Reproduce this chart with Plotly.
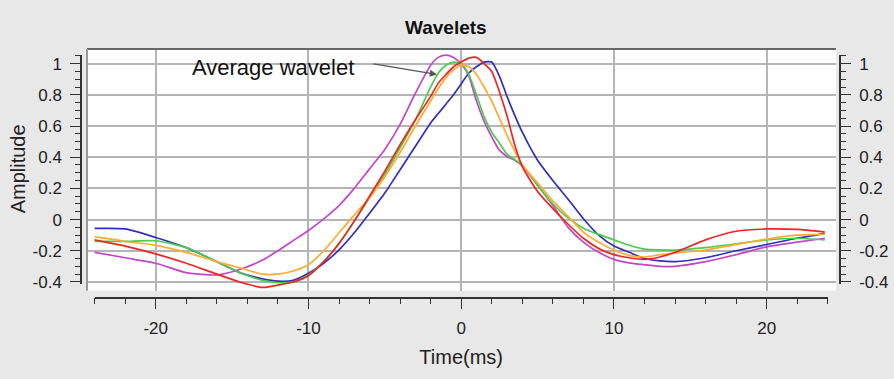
import plotly.graph_objects as go

W, H = 894, 379

t = [-24, -22, -20, -18, -16, -14.5, -13, -12, -11, -10, -9, -8, -7, -6, -5, -4, -3, -2,
     -1.5, -1, -0.5, 0, 0.5, 1, 1.5, 2, 2.5, 3, 3.5, 4, 5, 6, 7, 8, 9, 10, 11, 12, 13, 14,
     16, 18, 20, 22, 23.8]

blue = [-0.057, -0.06, -0.115, -0.18, -0.27, -0.34, -0.38, -0.395, -0.39, -0.345, -0.28,
        -0.195, -0.085, 0.04, 0.17, 0.32, 0.47, 0.62, 0.68, 0.74, 0.80, 0.87, 0.94, 0.98,
        1.01, 1.01, 0.92, 0.79, 0.67, 0.56, 0.38, 0.25, 0.13, 0.005, -0.10, -0.17, -0.21,
        -0.25, -0.265, -0.27, -0.245, -0.20, -0.16, -0.12, -0.09]

red = [-0.13, -0.17, -0.22, -0.28, -0.35, -0.40, -0.435, -0.42, -0.40, -0.36, -0.27,
       -0.155, -0.01, 0.15, 0.31, 0.48, 0.64, 0.79, 0.875, 0.93, 0.98, 1.01, 1.035, 1.04,
       1.0, 0.95, 0.82, 0.665, 0.48, 0.34, 0.18, 0.07, -0.03, -0.12, -0.185, -0.225, -0.245,
       -0.255, -0.24, -0.21, -0.13, -0.075, -0.06, -0.063, -0.08]

green = [-0.14, -0.14, -0.136, -0.18, -0.27, -0.34, -0.39, -0.405, -0.40, -0.355, -0.27,
         -0.15, -0.01, 0.14, 0.29, 0.46, 0.64, 0.85, 0.94, 0.99, 1.01, 1.0, 0.93, 0.80,
         0.66, 0.56, 0.49, 0.42, 0.385, 0.35, 0.22, 0.10, 0.01, -0.055, -0.095, -0.13,
         -0.165, -0.19, -0.195, -0.195, -0.18, -0.155, -0.13, -0.12, -0.13]

orange = [-0.11, -0.14, -0.165, -0.21, -0.27, -0.31, -0.35, -0.35, -0.33, -0.29, -0.20,
          -0.085, 0.03, 0.14, 0.275, 0.43, 0.60, 0.76, 0.84, 0.91, 0.96, 0.99, 0.98, 0.93,
          0.85, 0.76, 0.65, 0.54, 0.44, 0.35, 0.235, 0.12, 0.02, -0.08, -0.145, -0.195,
          -0.23, -0.24, -0.225, -0.215, -0.195, -0.16, -0.125, -0.10, -0.095]

magenta = [-0.21, -0.245, -0.28, -0.34, -0.355, -0.32, -0.26, -0.20, -0.135, -0.07, 0.005,
           0.09, 0.20, 0.325, 0.45, 0.61, 0.81, 0.99, 1.04, 1.055, 1.04, 1.0, 0.92, 0.76,
           0.63, 0.53, 0.445, 0.405, 0.38, 0.345, 0.22, 0.09, -0.05, -0.145, -0.21, -0.255,
           -0.278, -0.29, -0.30, -0.30, -0.27, -0.225, -0.175, -0.145, -0.12]

series = [
    ("magenta", magenta, "#c247c9"),
    ("blue", blue, "#3030b8"),
    ("green", green, "#4ccc4c"),
    ("orange", orange, "#ffab2e"),
    ("red", red, "#ee2525"),
]

x_ticks = [-20, -10, 0, 10, 20]
y_ticks = [-0.4, -0.2, 0, 0.2, 0.4, 0.6, 0.8, 1]
y_tick_text = ["-0.4", "-0.2", "0", "0.2", "0.4", "0.6", "0.8", "1"]

title_text = "Wavelets"
x_title = "Time(ms)"
y_title = "Amplitude"
note_text = "Average wavelet"

def px_x(p):
    return p / W

def px_y(p):
    return 1 - p / H

X0, XS = 461.2, 15.275     # px of t=0, px per ms
Y0, YS = 224.3, 159.3      # px of amp=0, px per unit

def xr(p):
    return (p - X0) / XS

def yr(p):
    return (Y0 - p) / YS

FONT = "Liberation Sans, Arial, Helvetica, sans-serif"
AXC = "#333333"

fig = go.Figure()
for name, vals, col in series:
    fig.add_trace(go.Scatter(x=t, y=vals, mode="lines", name=name,
                             line=dict(color=col, width=1.7, shape="spline", smoothing=0.6),
                             xaxis="x", yaxis="y", showlegend=False, hoverinfo="skip"))

fig.add_trace(go.Scatter(x=[None], y=[None], xaxis="x2", yaxis="y2", showlegend=False))
fig.add_trace(go.Scatter(x=[None], y=[None], xaxis="x2", yaxis="y3", showlegend=False))

PL, PR, PT, PB = 87, 836, 50, 297
RL, RR = X0 + XS * -24, X0 + XS * 24
RT, RB = Y0 - YS * 1.055, Y0 - YS * -0.415

ruler_y = dict(range=[-0.415, 1.055], anchor="free",
               tickvals=y_ticks, ticktext=y_tick_text,
               ticks="outside", ticklen=10, tickwidth=1.3, tickcolor=AXC,
               minor=dict(dtick=0.05, tick0=0, ticks="outside", ticklen=5, tickwidth=1.3,
                          tickcolor=AXC, showgrid=False),
               showline=True, linecolor=AXC, linewidth=1.5, ticklabelstandoff=5,
               showgrid=False, zeroline=False, tickfont=dict(size=17),
               fixedrange=True)

fig.update_layout(
    width=W, height=H,
    margin=dict(l=0, r=0, t=0, b=0),
    paper_bgcolor="#e8e8e8",
    plot_bgcolor="rgba(0,0,0,0)",
    font=dict(family=FONT, color="#222222"),
    xaxis=dict(domain=[px_x(PL), px_x(PR)], range=[xr(PL), xr(PR)], anchor="y",
               tickvals=x_ticks, showticklabels=False, ticks="",
               showgrid=True, gridcolor="#b5b5b5", gridwidth=1.5, zeroline=False,
               showline=False, fixedrange=True),
    yaxis=dict(domain=[px_y(PB), px_y(PT)], range=[yr(PB), yr(PT)], anchor="x",
               tickvals=y_ticks, showticklabels=False, ticks="",
               showgrid=True, gridcolor="#b5b5b5", gridwidth=1.5, zeroline=False,
               showline=False, fixedrange=True),
    xaxis2=dict(domain=[px_x(RL), px_x(RR)], range=[-24, 24], anchor="free",
                position=px_y(304), side="bottom",
                tickvals=x_ticks, ticktext=[str(v) for v in x_ticks],
                ticks="outside", ticklen=11, tickwidth=1.3, tickcolor=AXC,
                minor=dict(dtick=2, tick0=0, ticks="outside", ticklen=6, tickwidth=1.3,
                           tickcolor=AXC, showgrid=False),
                showline=True, linecolor=AXC, linewidth=1.5, ticklabelstandoff=4,
                showgrid=False, zeroline=False, tickfont=dict(size=17),
                title=dict(text=x_title, font=dict(size=20), standoff=12),
                fixedrange=True),
    yaxis2=dict(domain=[px_y(RB), px_y(RT)], position=px_x(81), side="left", **ruler_y),
    yaxis3=dict(domain=[px_y(RB), px_y(RT)], position=px_x(840), side="right", **ruler_y),
    shapes=[
        dict(type="rect", xref="paper", yref="paper", x0=px_x(PL), x1=px_x(PR),
             y0=px_y(PB), y1=px_y(PT), fillcolor="white", line=dict(width=0), layer="below"),
        dict(type="line", xref="paper", yref="paper", x0=px_x(PL), x1=px_x(PR),
             y0=px_y(PT), y1=px_y(PT), line=dict(color="#666666", width=2)),
        dict(type="line", xref="paper", yref="paper", x0=px_x(PL), x1=px_x(PL),
             y0=px_y(PB), y1=px_y(PT), line=dict(color="#9a9a9a", width=2)),
    ],
    annotations=[
        dict(text="<b>" + title_text + "</b>", xref="paper", yref="paper",
             x=px_x(446), y=px_y(28), xanchor="center", yanchor="middle",
             showarrow=False, font=dict(size=19, color="#111111")),
        dict(text=y_title, xref="paper", yref="paper", x=px_x(18), y=px_y(173),
             xanchor="center", yanchor="middle", textangle=-90,
             showarrow=False, font=dict(size=20, color="#222222")),
        dict(text=note_text, xref="x", yref="y", x=xr(273), y=yr(69),
             xanchor="center", yanchor="middle", showarrow=False,
             font=dict(size=22, color="#111111")),
        dict(text="", xref="x", yref="y", x=xr(437), y=yr(76),
             axref="x", ayref="y", ax=xr(372), ay=yr(65),
             showarrow=True, arrowhead=2, arrowsize=1.2, arrowwidth=1.2,
             arrowcolor="#555555"),
    ],
)

fig.write_html("out.html")
